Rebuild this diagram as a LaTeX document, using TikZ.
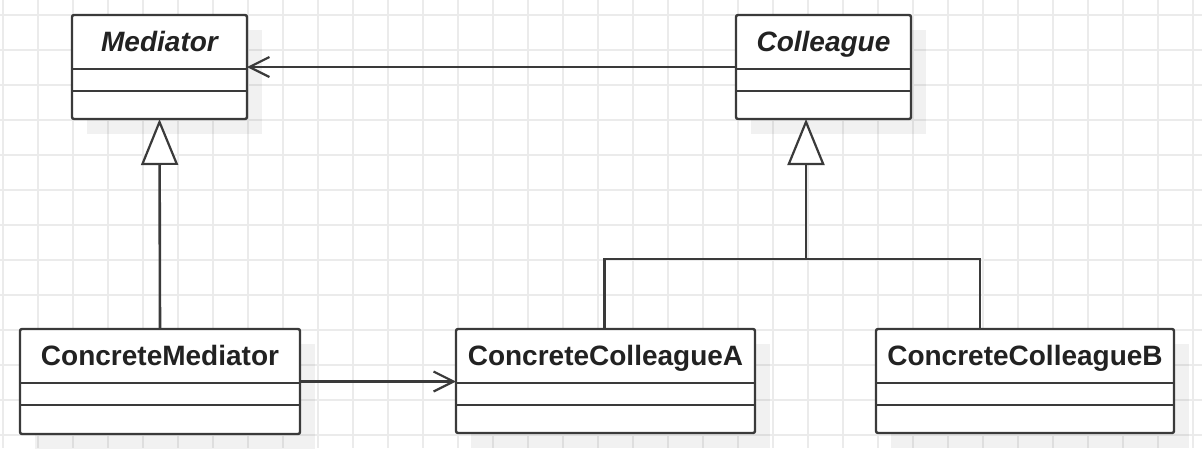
\documentclass[tikz,border=0pt]{standalone}
\usepackage{fontspec}
\setmainfont{Liberation Sans}
\usetikzlibrary{arrows.meta,calc}
\definecolor{gridc}{HTML}{EBEBEB}
\definecolor{linec}{HTML}{3A3A3A}
\definecolor{textc}{HTML}{222222}
\newcommand\umlclassbox[7]{%
  % #1 name, #2 cx, #3 cy, #4 w, #5 h, #6 text, #7 font
  \node[shadowbox, minimum width=#4, minimum height=#5] at (#2+15,#3+15) {};
  \node[clsbox, minimum width=#4, minimum height=#5] (#1) at (#2,#3) {};
  \draw[clsline] ($(#1.north west)+(0,54)$) -- ($(#1.north east)+(0,54)$);
  \draw[clsline] ($(#1.north west)+(0,76)$) -- ($(#1.north east)+(0,76)$);
  \node[titletext, font=#7, anchor=base] at ($(#1.north)+(0,36.5)$) {#6};
}
\begin{document}
\begin{tikzpicture}[x=1pt,y=-1pt,
  gridline/.style={draw=gridc, line width=2pt},
  shadowbox/.style={rectangle, fill=black, fill opacity=0.055, inner sep=0pt, outer sep=0pt},
  clsbox/.style={rectangle, draw=linec, fill=white, line width=2.4pt, rounded corners=2pt, inner sep=0pt, outer sep=0pt},
  clsline/.style={draw=linec, line width=2.4pt},
  titletext/.style={text=textc, inner sep=0pt},
  assoc/.style={draw=linec, line width=2.2pt, -{Straight Barb[length=20pt,width=20pt]}},
  gen/.style={draw=linec, line width=2.6pt, -{Triangle[length=46pt,width=37pt,fill=white,line width=2.2pt]}},
  branch/.style={draw=linec, line width=2.4pt},
]
\useasboundingbox (0,0) rectangle (1202,448);
\fill[white] (0,0) rectangle (1202,448);
\foreach \k in {0,...,34} { \draw[gridline] (3.3+35*\k,0) -- (3.3+35*\k,448); }
\foreach \k in {0,...,12} { \draw[gridline] (0,15+35*\k) -- (1202,15+35*\k); }

\umlclassbox{med}{159.5}{67}{175}{104}{Mediator}{\fontsize{28}{33}\selectfont\bfseries\itshape}
\umlclassbox{col}{823.5}{67}{175}{104}{Colleague}{\fontsize{28}{33}\selectfont\bfseries\itshape}
\umlclassbox{cmed}{160}{381.5}{280}{105}{ConcreteMediator}{\fontsize{28}{33}\selectfont\bfseries}
\umlclassbox{cca}{605.5}{381}{299}{104}{ConcreteColleagueA}{\fontsize{28}{33}\selectfont\bfseries}
\umlclassbox{ccb}{1025}{381}{298}{104}{ConcreteColleagueB}{\fontsize{28}{33}\selectfont\bfseries}

% association Colleague -> Mediator
\draw[assoc] ($(col.north west)+(0,52)$) -- ($(med.north east)+(0,52)$);
% association ConcreteMediator -> ConcreteColleagueA
\draw[assoc] ($(cmed.north east)+(0,52.5)$) -- ($(cca.north west)+(0,52.5)$);
% generalization ConcreteMediator -> Mediator
\draw[gen] (cmed.north) -- (med.south);
% generalization tree to Colleague
\coordinate (jn) at ($(col.south)+(-17.5,140)$);
\coordinate (cbtop) at ($(ccb.north west)+(104,0)$);
\draw[branch] ($(cca.north)+(-1,0)$) |- (jn);
\draw[branch] (cbtop) |- (jn);
\draw[gen] (jn) -- (jn |- col.south);
\end{tikzpicture}
\end{document}
